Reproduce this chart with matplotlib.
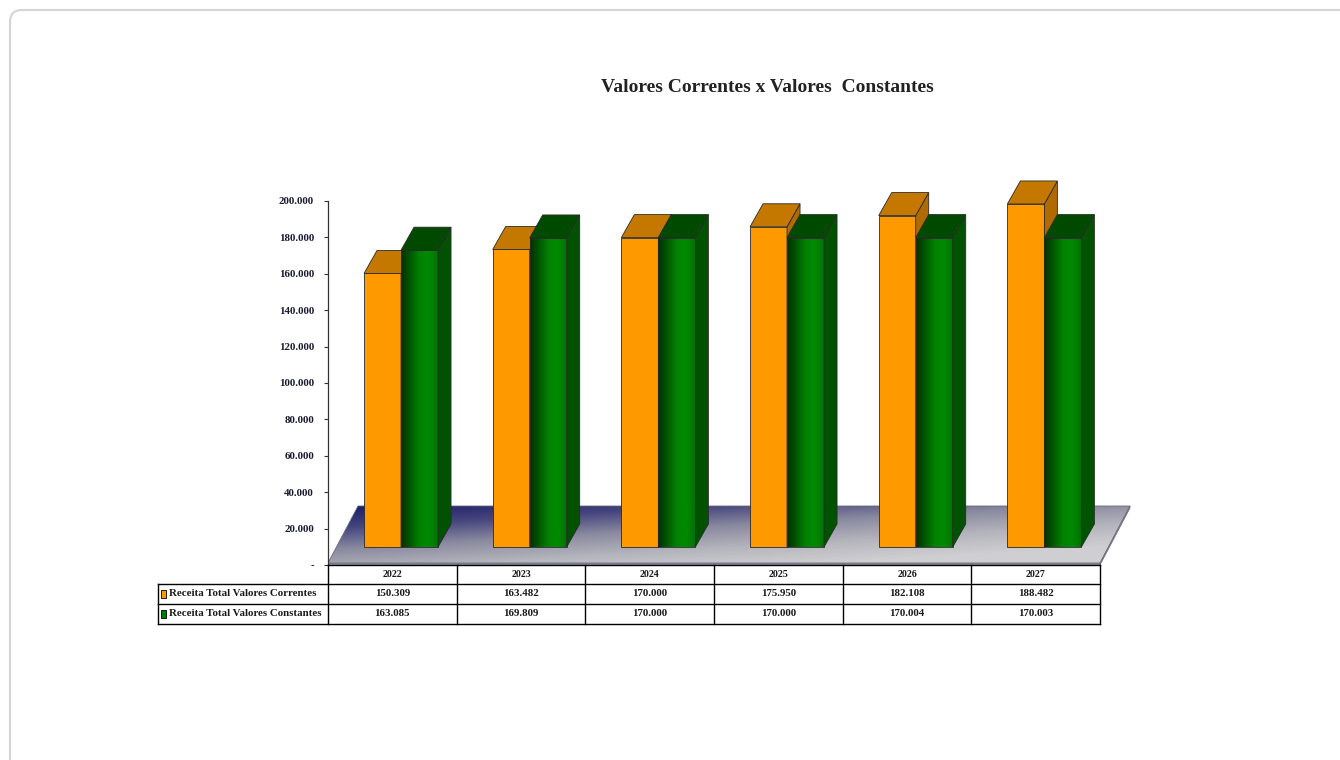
import numpy as np
import matplotlib
matplotlib.use("Agg")
import matplotlib.pyplot as plt
from matplotlib.patches import Polygon, Rectangle, FancyBboxPatch
from matplotlib.colors import LinearSegmentedColormap

# data
anos = ["2022", "2023", "2024", "2025", "2026", "2027"]
correntes = [150309, 163482, 170000, 175950, 182108, 188482]
constantes = [163085, 169809, 170000, 170000, 170004, 170003]
series_nomes = ["Receita Total Valores Correntes", "Receita Total Valores Constantes"]
yticks = [0, 20000, 40000, 60000, 80000, 100000, 120000, 140000, 160000, 180000, 200000]


def fmt(v):
    return "-" if v == 0 else f"{v:,}".replace(",", ".")


# pixel scales (figure is 1340x760 at dpi 100)
PX_X = 128.67            # px per category
PX_Y = 364 / 200000      # px per unit
DX = 13 / PX_X           # bar depth
DY = 23 / PX_Y
BASE = 18 / PX_Y         # bar bottom above the axis zero
BW = 37 / PX_X           # bar width
FLOOR_DX = 30 / PX_X
FLOOR_FRONT = 2 / PX_Y
FLOOR_BACK = 59 / PX_Y

ORANGE = {"front": "#FF9900", "top": "#C47800", "side": "#B06A00"}
GREEN = {"top": "#004A00", "side": "#005200"}
green_cmap = LinearSegmentedColormap.from_list(
    "g", ["#003000", "#005800", "#008200", "#008A00", "#007400"])
floor_cmap = LinearSegmentedColormap.from_list(
    "f", ["#1b1b68", "#45457e", "#8a8aa0", "#b4b4bc", "#cfcfd2"])
EDGE = "#2a2a2a"

fig = plt.figure(figsize=(13.4, 7.6), dpi=100)

# card border
fig.patches.append(FancyBboxPatch((0.1, -0.3), 13.6, 7.8,
                                  boxstyle="round,pad=0,rounding_size=0.12",
                                  transform=fig.dpi_scale_trans, zorder=-5,
                                  facecolor="white", edgecolor="#d4d4d4", lw=1.5))

xmin, xmax = -0.5, 5.8
ymin, ymax = 0, 215000
ax = fig.add_axes([328 / 1340, (760 - 565) / 760,
                   (xmax - xmin) * PX_X / 1340, (ymax - ymin) * PX_Y / 760])
ax.set_facecolor("none")

z = 1
# floor
floor_pts = [(xmin, FLOOR_FRONT), (xmin + FLOOR_DX, FLOOR_BACK),
             (5.5 + FLOOR_DX, FLOOR_BACK), (5.5, FLOOR_FRONT)]
floor = Polygon(floor_pts, closed=True, facecolor="none", edgecolor="#6a6a78", lw=0.6, zorder=z + 1)
ax.add_patch(floor)
u = np.linspace(0, 1, 200)
v = np.linspace(0, 1, 60)
U, V = np.meshgrid(u, v)
grad = np.clip(0.55 * U + 0.65 * (1 - V), 0, 1)   # origin lower: row 0 = front
im = ax.imshow(grad, cmap=floor_cmap, origin="lower", aspect="auto",
               extent=(xmin, 5.5 + FLOOR_DX, FLOOR_FRONT, FLOOR_BACK), zorder=z, interpolation="bilinear")
im.set_clip_path(floor)
# floor thickness
ax.add_patch(Polygon([(xmin, 0), (xmin, FLOOR_FRONT), (5.5, FLOOR_FRONT), (5.5, 0)],
                     closed=True, facecolor="#8a8a90", edgecolor="#6a6a78", lw=0.5, zorder=z + 1))
ax.add_patch(Polygon([(5.5, 0), (5.5, FLOOR_FRONT), (5.5 + FLOOR_DX, FLOOR_BACK),
                      (5.5 + FLOOR_DX, FLOOR_BACK - FLOOR_FRONT)],
                     closed=True, facecolor="#9a9aa0", edgecolor="#6a6a78", lw=0.5, zorder=z + 1))
z += 2


def draw_box(x0, h, front, top, side, z, gradient=None):
    x1 = x0 + BW
    y0, y1 = BASE, BASE + h
    if gradient is None:
        ax.add_patch(Rectangle((x0, y0), BW, h, facecolor=front, edgecolor=EDGE, lw=0.6, zorder=z))
    else:
        g = np.linspace(0, 1, 100)[None, :]
        ax.imshow(g, cmap=gradient, aspect="auto", extent=(x0, x1, y0, y1), zorder=z,
                  interpolation="bilinear")
        ax.add_patch(Rectangle((x0, y0), BW, h, facecolor="none", edgecolor=EDGE, lw=0.6, zorder=z + 0.1))
    ax.add_patch(Polygon([(x1, y0), (x1 + DX, y0 + DY), (x1 + DX, y1 + DY), (x1, y1)],
                         closed=True, facecolor=side, edgecolor=EDGE, lw=0.6, zorder=z + 0.2))
    ax.add_patch(Polygon([(x0, y1), (x0 + DX, y1 + DY), (x1 + DX, y1 + DY), (x1, y1)],
                         closed=True, facecolor=top, edgecolor=EDGE, lw=0.6, zorder=z + 0.2))


for i in range(len(anos)):
    draw_box(i - 0.22, correntes[i], ORANGE["front"], ORANGE["top"], ORANGE["side"], z)
    z += 1
    draw_box(i - 0.22 + BW, constantes[i], None, GREEN["top"], GREEN["side"], z, gradient=green_cmap)
    z += 1

ax.set_xlim(xmin, xmax)
ax.set_ylim(ymin, ymax)
for s in ["top", "right", "bottom"]:
    ax.spines[s].set_visible(False)
ax.spines["left"].set_bounds(0, 200000)
ax.spines["left"].set_color("#333333")
ax.spines["left"].set_linewidth(0.9)
ax.set_xticks([])
ax.set_yticks(yticks)
ax.set_yticklabels([fmt(t) for t in yticks])
ax.tick_params(axis="y", length=3, width=0.8, color="#333333", pad=7)
for lab in ax.get_yticklabels():
    lab.set_fontfamily("Liberation Serif")
    lab.set_fontweight("bold")
    lab.set_fontsize(7.8)
    lab.set_color("#1a1a30")

# data table
rows_y = [0, -19 / PX_Y, -39 / PX_Y, -59 / PX_Y]
left_x = -0.5 - 170 / PX_X
lk = dict(color="black", lw=1.0, clip_on=False, zorder=50)
ax.plot([-0.5, 5.5], [rows_y[0], rows_y[0]], **lk)
for ry in rows_y[1:]:
    ax.plot([left_x, 5.5], [ry, ry], **lk)
ax.plot([left_x, left_x], [rows_y[1], rows_y[3]], **lk)
for cx in np.arange(-0.5, 5.6, 1.0):
    ax.plot([cx, cx], [rows_y[0], rows_y[3]], **lk)

tk = dict(fontfamily="Liberation Serif", fontweight="bold", color="#1a1a1a",
          clip_on=False, zorder=51, va="center")
for i, a in enumerate(anos):
    ax.text(i, (rows_y[0] + rows_y[1]) / 2, a, ha="center", fontsize=7.2, **tk)
    ax.text(i, (rows_y[1] + rows_y[2]) / 2, fmt(correntes[i]), ha="center", fontsize=7.8, **tk)
    ax.text(i, (rows_y[2] + rows_y[3]) / 2, fmt(constantes[i]), ha="center", fontsize=7.8, **tk)

key_colors = [ORANGE["front"], "#007A00"]
for r, (nome, kc) in enumerate(zip(series_nomes, key_colors)):
    yc = (rows_y[r + 1] + rows_y[r + 2]) / 2
    ax.add_patch(Rectangle((left_x + 3 / PX_X, yc - 4 / PX_Y), 5 / PX_X, 8 / PX_Y,
                           facecolor=kc, edgecolor="black", lw=0.6, clip_on=False, zorder=51))
    ax.text(left_x + 11 / PX_X, yc, nome, ha="left", fontsize=7.8, **tk)

fig.text(767 / 1340, 1 - 87 / 760, "Valores Correntes x Valores  Constantes",
         ha="center", va="center", fontsize=14, fontfamily="Liberation Serif",
         fontweight="bold", color="#222222")

fig.savefig("out.png", dpi=100)
